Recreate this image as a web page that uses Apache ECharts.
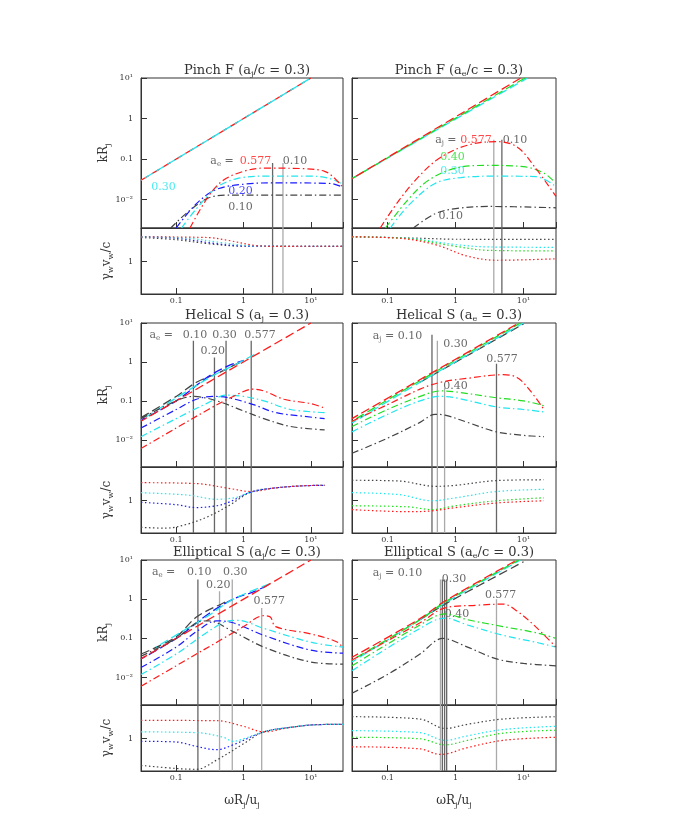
<!DOCTYPE html>
<html>
<head>
<meta charset="utf-8">
<script src="https://cdn.jsdelivr.net/npm/echarts@6/dist/echarts.min.js"></script>
<style>html,body{margin:0;background:#fff}#c{width:680px;height:825px}</style>
</head>
<body>
<div id="c"></div>
<script>
// colours of the curves
const RED = '#ff1a1a', CYA = '#22e5ee', BLU = '#1a1aff', BLK = '#444', GRN = '#22dd22';
const GRAY = '#aaa', DARK = '#666';

// x = omega Rj / uj (log), kRj and gamma_w v_w / c
// ---- Pinch F (aj/c = 0.3)
const p1Up = [[[0.03,0.03],[10,10]], [[0.03,0.03],[10,10]]];
const p1Red = [[0.16,0.002],[0.3,0.012],[0.5,0.03],[1,0.05],[2,0.06],[8,0.058],[16,0.05],[22,0.035],[30,0.02]];
const p1Cya = [[0.12,0.002],[0.2,0.006],[0.4,0.02],[0.8,0.033],[2,0.038],[10,0.038],[18,0.034],[30,0.024]];
const p1Blu = [[0.1,0.002],[0.2,0.008],[0.4,0.018],[1,0.024],[3,0.026],[20,0.025],[30,0.02]];
const p1Blk = [[0.083,0.002],[0.15,0.005],[0.3,0.011],[0.6,0.013],[30,0.013]];
const p1sRed = [[0.03,2.25],[0.3,2.2],[0.6,2.0],[1.5,1.7],[3,1.65],[30,1.65]];
const p1sCya = [[0.03,2.25],[0.15,2.15],[0.5,1.85],[1.5,1.67],[30,1.65]];
const p1sBlu = [[0.03,2.25],[0.1,2.15],[0.4,1.8],[1,1.67],[30,1.65]];
const p1sBlk = [[0.03,2.2],[0.1,2.05],[0.3,1.8],[1,1.66],[30,1.65]];
const p1V = [[2.7,0.08,DARK],[3.85,0.08,GRAY]];
// ---- Pinch F (ae/c = 0.3)
const p2UpRed = [[0.03,0.033],[9.1,10]];
const p2UpGrn = [[0.03,0.033],[0.5,0.52],[10.5,10]];
const p2UpCya = [[0.03,0.033],[0.5,0.5],[11.5,10]];
const p2Red = [[0.078,0.002],[0.15,0.01],[0.3,0.04],[0.6,0.11],[1.5,0.22],[4,0.27],[8,0.2],[15,0.06],[30,0.012]];
const p2Grn = [[0.093,0.002],[0.2,0.01],[0.4,0.03],[1,0.06],[3,0.07],[10,0.065],[20,0.045],[30,0.025]];
const p2Cya = [[0.11,0.002],[0.2,0.007],[0.5,0.025],[1.2,0.035],[4,0.038],[15,0.037],[30,0.021]];
const p2Blk = [[0.24,0.002],[0.5,0.0045],[1,0.006],[3,0.0068],[30,0.0063]];
const p2sBlk = [[0.03,2.25],[0.3,2.15],[1,2.08],[30,2.07]];
const p2sCya = [[0.03,2.25],[0.2,2.15],[1,1.75],[3,1.62],[30,1.6]];
const p2sGrn = [[0.03,2.25],[0.2,2.12],[1,1.65],[3,1.45],[30,1.42]];
const p2sRed = [[0.03,2.25],[0.15,2.15],[0.5,1.75],[1.5,1.2],[4,1.05],[30,1.1]];
const p2V = [[3.65,0.3,GRAY],[4.8,0.3,DARK]];
// ---- Helical S (aj = 0.3)
const p3UpRed = [[0.03,0.03],[10,10]];
const p3UpCya = [[0.03,0.032],[0.3,0.38],[0.8,0.9],[1.5,1.6]];
const p3UpBlu = [[0.03,0.032],[0.1,0.1],[0.3,0.42],[0.6,0.8],[1,1.1]];
const p3UpBlk = [[0.03,0.037],[0.1,0.13],[0.2,0.3],[0.4,0.5],[0.7,0.8],[1,1.05]];
const p3Blk = [[0.03,0.035],[0.1,0.1],[0.18,0.13],[0.4,0.1],[1,0.055],[2,0.035],[5,0.022],[16,0.018]];
const p3Blu = [[0.03,0.02],[0.1,0.06],[0.2,0.11],[0.35,0.13],[0.6,0.12],[1.4,0.08],[3,0.05],[8,0.04],[16,0.035]];
const p3Cya = [[0.03,0.012],[0.1,0.035],[0.3,0.09],[0.55,0.14],[1,0.13],[2,0.1],[5,0.06],[16,0.05]];
const p3Red = [[0.03,0.006],[0.1,0.02],[0.3,0.06],[0.7,0.13],[1.4,0.2],[2,0.18],[4,0.11],[10,0.085],[16,0.065]];
const p3Tail = [[3,1.52],[8,1.63],[16,1.65]];
const p3sRed = [[0.03,1.8],[0.2,1.75],[0.6,1.5],[1.3,1.35]].concat(p3Tail);
const p3sCya = [[0.03,1.3],[0.15,1.2],[0.4,1.05],[0.8,1.12],[1.3,1.33]].concat(p3Tail);
const p3sBlu = [[0.03,0.95],[0.1,0.88],[0.2,0.8],[0.4,0.85],[0.6,0.95],[1.3,1.33]].concat(p3Tail);
const p3sBlk = [[0.03,0.42],[0.07,0.41],[0.15,0.47],[0.3,0.6],[0.6,0.85],[1.3,1.33]].concat(p3Tail);
const p3V = [[0.18,3.5,DARK],[0.37,1.3,DARK],[0.55,3.5,DARK],[1.3,3.5,DARK]];
// ---- Helical S (ae = 0.3)
const p4UpRed = [[0.03,0.035],[8.5,10]];
const p4UpGrn = [[0.03,0.03],[0.3,0.33],[9,10]];
const p4UpCya = [[0.03,0.027],[0.3,0.3],[10,10]];
const p4UpBlk = [[0.3,0.3],[10,9.5]];
const p4Red = [[0.03,0.03],[0.1,0.08],[0.3,0.2],[0.6,0.3],[1.5,0.38],[5,0.47],[8,0.4],[12,0.2],[20,0.06]];
const p4Grn = [[0.03,0.022],[0.1,0.06],[0.3,0.13],[0.6,0.18],[1,0.17],[4,0.12],[10,0.1],[20,0.075]];
const p4Cya = [[0.03,0.016],[0.1,0.045],[0.3,0.1],[0.6,0.13],[1,0.12],[4,0.07],[10,0.06],[20,0.052]];
const p4Blk = [[0.03,0.0045],[0.1,0.011],[0.3,0.028],[0.5,0.045],[0.7,0.043],[1.5,0.028],[4,0.016],[10,0.013],[20,0.012]];
const p4sBlk = [[0.03,1.95],[0.15,1.9],[0.5,1.6],[1,1.65],[4,1.93],[20,1.98]];
const p4sCya = [[0.03,1.3],[0.15,1.22],[0.45,1.0],[1,1.1],[4,1.35],[20,1.45]];
const p4sGrn = [[0.03,0.85],[0.2,0.82],[0.45,0.75],[1,0.85],[4,1.0],[20,1.1]];
const p4sRed = [[0.03,0.75],[0.2,0.7],[0.45,0.72],[1,0.8],[4,0.93],[20,1.0]];
const p4V = [[0.45,5,DARK],[0.54,3.5,GRAY],[0.69,0.22,GRAY],[4.0,0.9,DARK]];
// ---- Elliptical S (aj/c = 0.3)
const p5UpRed = [[0.03,0.03],[10,10]];
const p5UpCya = [[0.05,0.06],[0.3,0.38],[0.7,1.0],[2.5,2.5]];
const p5UpBlu = [[0.03,0.03],[0.1,0.1],[0.3,0.42],[0.7,1.0],[1.5,1.6],[2.5,2.5]];
const p5UpBlk = [[0.03,0.04],[0.1,0.11],[0.2,0.35],[0.5,0.8],[0.6,0.9]];
const p5Blk = [[0.03,0.035],[0.1,0.1],[0.2,0.25],[0.3,0.28],[0.7,0.15],[2,0.06],[10,0.025],[30,0.022]];
const p5Blu = [[0.03,0.018],[0.1,0.06],[0.2,0.15],[0.4,0.28],[0.7,0.25],[2,0.12],[10,0.05],[30,0.042]];
const p5Cya = [[0.03,0.012],[0.1,0.04],[0.3,0.15],[0.6,0.28],[0.8,0.29],[2,0.18],[10,0.08],[30,0.06]];
const p5Red = [[0.03,0.006],[0.1,0.02],[0.5,0.1],[1,0.2],[2,0.38],[2.5,0.35],[3,0.2],[10,0.13],[25,0.08],[30,0.055]];
const p5Tail = [[5,1.45],[12,1.58],[30,1.6]];
const p5sRed = [[0.03,1.82],[0.4,1.8],[1,1.5],[2,1.25]].concat(p5Tail);
const p5sCya = [[0.03,1.25],[0.2,1.22],[0.5,1.05],[0.7,0.92],[1,1.0],[2,1.25]].concat(p5Tail);
const p5sBlu = [[0.03,0.92],[0.1,0.9],[0.2,0.78],[0.4,0.7],[0.7,0.82],[2,1.25]].concat(p5Tail);
const p5sBlk = [[0.03,0.42],[0.1,0.38],[0.2,0.37],[0.4,0.5],[1,0.85],[2,1.25]].concat(p5Tail);
const p5V = [[0.21,3.2,DARK],[0.44,1.6,GRAY],[0.68,3.2,GRAY],[1.86,0.6,GRAY]];
// ---- Elliptical S (ae/c = 0.3)
const p6UpRed = [[0.03,0.033],[0.3,0.32],[0.7,0.9],[8,10]];
const p6UpGrn = [[0.03,0.028],[0.3,0.3],[0.7,0.85],[8.5,10]];
const p6UpCya = [[0.03,0.025],[0.3,0.3],[0.7,0.8],[9,10]];
const p6UpBlk = [[0.3,0.3],[0.7,0.75],[10,9]];
const p6Red = [[0.03,0.028],[0.3,0.25],[0.7,0.6],[2,0.7],[5,0.75],[8,0.5],[15,0.2],[30,0.06]];
const p6Grn = [[0.03,0.02],[0.3,0.22],[0.7,0.42],[1.5,0.3],[5,0.2],[15,0.14],[30,0.1]];
const p6Cya = [[0.03,0.015],[0.3,0.18],[0.7,0.33],[1.5,0.22],[5,0.12],[15,0.08],[30,0.06]];
const p6Blk = [[0.03,0.004],[0.1,0.012],[0.3,0.04],[0.65,0.1],[1.5,0.06],[4,0.03],[10,0.023],[30,0.02]];
const p6sBlk = [[0.03,2.05],[0.3,1.9],[0.7,1.4],[1.5,1.6],[5,1.9],[30,2.05]];
const p6sCya = [[0.03,1.3],[0.3,1.22],[0.7,0.95],[1.5,1.1],[5,1.35],[30,1.5]];
const p6sGrn = [[0.03,1.05],[0.3,1.0],[0.7,0.82],[1.5,0.95],[5,1.2],[30,1.32]];
const p6sRed = [[0.03,0.77],[0.3,0.72],[0.6,0.6],[1.5,0.75],[5,0.95],[30,1.05]];
const p6V = [[0.6,3.2,GRAY],[0.64,3.2,DARK],[0.69,3.2,DARK],[0.74,3.2,DARK],[4.0,1.0,GRAY]];

const titles = ['Pinch F (a{s|j}/c = 0.3)', 'Pinch F (a{s|e}/c = 0.3)',
  'Helical S (a{s|j} = 0.3)', 'Helical S (a{s|e} = 0.3)',
  'Elliptical S (a{s|j}/c = 0.3)', 'Elliptical S (a{s|e}/c = 0.3)'];

// text labels in data coordinates: [x, y, text, colour]
const labels = [
  [[0.48,0.09,'a{s|e} =',BLK],[1.5,0.09,'0.577',RED],[5.8,0.09,'0.10',BLK],[0.065,0.02,'0.30',CYA],[0.9,0.016,'0.20',BLU],[0.9,0.0065,'0.10',BLK]],
  [[0.72,0.3,'a{s|j} =',BLK],[2.0,0.3,'0.577',RED],[7.5,0.3,'0.10',BLK],[0.9,0.11,'0.40',GRN],[0.9,0.05,'0.30',CYA],[0.85,0.004,'0.10',BLK]],
  [[0.06,5,'a{s|e} =',BLK],[0.19,5,'0.10',BLK],[0.52,5,'0.30',BLK],[1.75,5,'0.577',BLK],[0.35,1.9,'0.20',BLK]],
  [[0.14,4.5,'a{s|j} = 0.10',BLK],[1.0,2.8,'0.30',BLK],[4.8,1.2,'0.577',BLK],[1.0,0.24,'0.40',BLK]],
  [[0.065,5,'a{s|e} =',BLK],[0.22,5,'0.10',BLK],[0.75,5,'0.30',BLK],[0.42,2.3,'0.20',BLK],[2.4,0.9,'0.577',BLK]],
  [[0.14,4.5,'a{s|j} = 0.10',BLK],[0.95,3.2,'0.30',BLK],[4.6,1.3,'0.577',BLK],[1.05,0.42,'0.40',BLK]]
];

const panels = [
  {up: [[p1Up[0],RED,0],[p1Up[1],CYA,8]], dd: [[p1Blk,BLK],[p1Blu,BLU],[p1Cya,CYA],[p1Red,RED]],
   sub: [[p1sBlk,BLK],[p1sBlu,BLU],[p1sCya,CYA],[p1sRed,RED]], v: p1V},
  {up: [[p2UpCya,CYA,0],[p2UpGrn,GRN,4],[p2UpRed,RED,8]], dd: [[p2Blk,BLK],[p2Cya,CYA],[p2Grn,GRN],[p2Red,RED]],
   sub: [[p2sBlk,BLK],[p2sCya,CYA],[p2sGrn,GRN],[p2sRed,RED]], v: p2V},
  {up: [[p3UpBlk,BLK,0],[p3UpBlu,BLU,4],[p3UpCya,CYA,8],[p3UpRed,RED,2]], dd: [[p3Blk,BLK],[p3Blu,BLU],[p3Cya,CYA],[p3Red,RED]],
   sub: [[p3sBlk,BLK],[p3sBlu,BLU],[p3sCya,CYA],[p3sRed,RED]], v: p3V},
  {up: [[p4UpBlk,BLK,0],[p4UpCya,CYA,4],[p4UpGrn,GRN,8],[p4UpRed,RED,2]], dd: [[p4Blk,BLK],[p4Cya,CYA],[p4Grn,GRN],[p4Red,RED]],
   sub: [[p4sBlk,BLK],[p4sCya,CYA],[p4sGrn,GRN],[p4sRed,RED]], v: p4V},
  {up: [[p5UpBlk,BLK,0],[p5UpBlu,BLU,4],[p5UpCya,CYA,8],[p5UpRed,RED,2]], dd: [[p5Blk,BLK],[p5Blu,BLU],[p5Cya,CYA],[p5Red,RED]],
   sub: [[p5sBlk,BLK],[p5sBlu,BLU],[p5sCya,CYA],[p5sRed,RED]], v: p5V},
  {up: [[p6UpBlk,BLK,0],[p6UpCya,CYA,4],[p6UpGrn,GRN,8],[p6UpRed,RED,2]], dd: [[p6Blk,BLK],[p6Cya,CYA],[p6Grn,GRN],[p6Red,RED]],
   sub: [[p6sBlk,BLK],[p6sCya,CYA],[p6sGrn,GRN],[p6sRed,RED]], v: p6V}
];

const FONT = 'DejaVu Serif';
const rowTop = [78, 323, 560], mainH = [150, 144, 145], subH = 66;
const colLeft = [141, 352], colW = [202, 204];
const YMIN = 0.002, YMAX = 10, SMIN = 0.35, SMAX = 3;
const rich = {s: {fontSize: 8, fontFamily: FONT, padding: [7, 0, 0, 0]}};

function xLab(v) {
  if (Math.abs(v - 0.1) < 1e-6) return '0.1';
  if (Math.abs(v - 1) < 1e-6) return '1';
  if (Math.abs(v - 10) < 1e-6) return '10¹';
  return '';
}
function yLab(v) {
  if (Math.abs(v - 10) < 1e-6) return '10¹';
  if (Math.abs(v - 1) < 1e-6) return '1';
  if (Math.abs(v - 0.1) < 1e-6) return '0.1';
  if (Math.abs(v - 0.01) < 1e-7) return '10⁻²';
  return '';
}

let grid = [], xAxis = [], yAxis = [], series = [], title = [];
const nameRich = {rich: {a: {fontFamily: FONT, fontSize: 12, color: '#333'}, s: {fontFamily: FONT, fontSize: 8, color: '#333', padding: [8, 0, 0, 0]}}};
panels.forEach((p, i) => {
  const r = Math.floor(i / 2), c = i % 2;
  const gm = 2 * i, gs = 2 * i + 1;
  grid.push({left: colLeft[c], width: colW[c], top: rowTop[r], height: mainH[r], show: true, borderColor: '#333', borderWidth: 1});
  grid.push({left: colLeft[c], width: colW[c], top: rowTop[r] + mainH[r], height: subH, show: true, borderColor: '#333', borderWidth: 1});
  title.push({text: titles[i], left: colLeft[c] + colW[c] / 2, top: rowTop[r] - 20, textAlign: 'center',
    textStyle: {fontFamily: FONT, fontSize: 13, fontWeight: 'normal', color: '#333', rich: rich}});
  const xBase = {type: 'log', min: 0.03, max: 30, splitLine: {show: false},
    axisLine: {lineStyle: {color: '#333'}}, axisTick: {inside: true, length: 6, lineStyle: {color: '#333'}}};
  xAxis.push(Object.assign({gridIndex: gm, axisLabel: {show: false}}, xBase));
  xAxis.push(Object.assign({gridIndex: gs,
    axisLabel: {formatter: xLab, fontFamily: FONT, fontSize: 8, color: '#333', margin: 3, showMinLabel: false, showMaxLabel: false},
    name: r === 2 ? '{a|ωR}{s|j}{a|/u}{s|j}' : '', nameLocation: 'middle', nameGap: 22,
    nameTextStyle: nameRich}, xBase));
  const yBase = {type: 'log', splitLine: {show: false}, axisLine: {lineStyle: {color: '#333'}},
    axisTick: {inside: true, length: 6, lineStyle: {color: '#333'}}};
  yAxis.push(Object.assign({gridIndex: gm, min: YMIN, max: YMAX,
    axisLabel: {show: c === 0, formatter: yLab, fontFamily: FONT, fontSize: 8, color: '#333', showMinLabel: false},
    name: c === 0 ? '{a|kR}{s|j}' : '', nameLocation: 'middle', nameGap: 26, nameRotate: 90,
    nameTextStyle: nameRich}, yBase));
  yAxis.push(Object.assign({gridIndex: gs, min: SMIN, max: SMAX,
    axisLabel: {show: c === 0, formatter: v => Math.abs(v - 1) < 1e-6 ? '1' : '', fontFamily: FONT, fontSize: 8, color: '#333',
      showMinLabel: false, showMaxLabel: false},
    name: c === 0 ? '{a|γ}{s|w}{a|v}{s|w}{a|/c}' : '', nameLocation: 'middle', nameGap: 26, nameRotate: 90,
    nameTextStyle: nameRich}, yBase));

  const line = (data, color, g, type, extra) => series.push(Object.assign({
    type: 'line', xAxisIndex: g, yAxisIndex: g, data: data, showSymbol: false, smooth: 0.35, silent: true,
    lineStyle: {color: color, width: 1.2, type: type}, clip: true}, extra || {}));
  p.v.forEach(v => {
    line([[v[0], v[1]], [v[0], YMIN]], v[2], gm, 'solid', {smooth: false, lineStyle: {color: v[2], width: 1.3}});
    line([[v[0], SMAX], [v[0], SMIN]], v[2], gs, 'solid', {smooth: false, lineStyle: {color: v[2], width: 1.3}});
  });
  p.up.forEach(u => line(u[0], u[1], gm, [9, 4], {lineStyle: {color: u[1], width: 1.3, type: [9, 4], dashOffset: u[2]}}));
  p.dd.forEach(d => line(d[0], d[1], gm, [7, 3, 1.5, 3]));
  p.sub.forEach(d => line(d[0], d[1], gs, [1.5, 2.5]));
  series.push({type: 'scatter', xAxisIndex: gm, yAxisIndex: gm, symbolSize: 0, silent: true,
    data: labels[i].map(l => ({value: [l[0], l[1]],
      label: {show: true, position: 'inside', formatter: l[2], color: l[3], fontFamily: FONT, fontSize: 11,
        rich: {s: {fontSize: 7, fontFamily: FONT, color: l[3], padding: [6, 0, 0, 0]}}}}))});
});

const chart = echarts.init(document.getElementById('c'));
chart.setOption({animation: false, backgroundColor: '#fff', title: title, grid: grid, xAxis: xAxis, yAxis: yAxis, series: series});
</script>
</body>
</html>
